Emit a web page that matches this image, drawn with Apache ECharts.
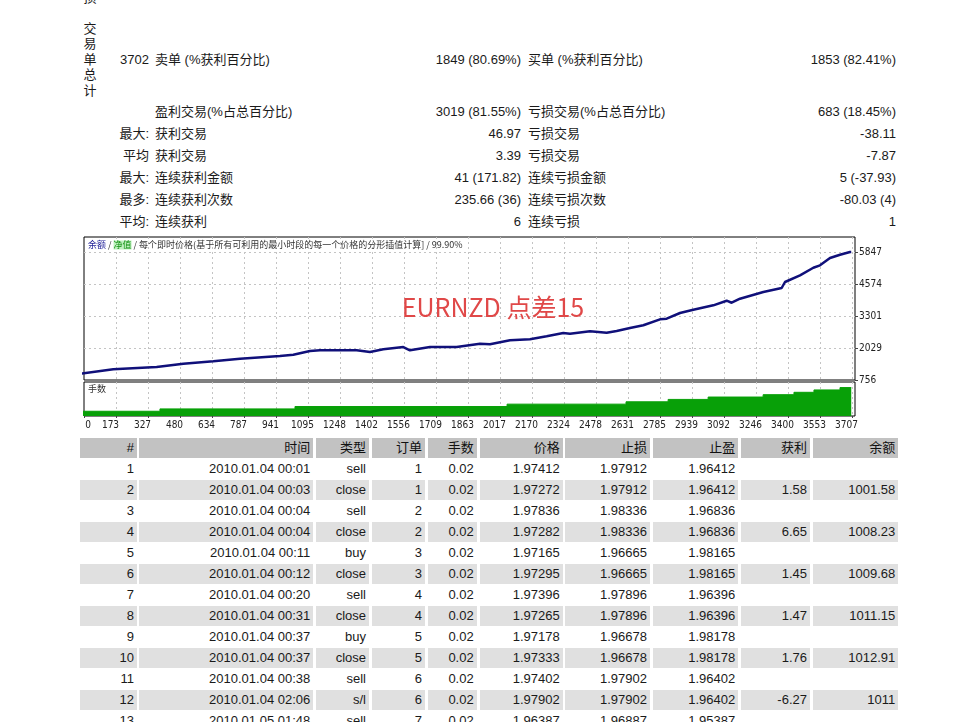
<!DOCTYPE html>
<html><head><meta charset="utf-8">
<script src="https://cdn.jsdelivr.net/npm/echarts@6/dist/echarts.min.js"></script>
<style>
html,body{margin:0;padding:0;background:#fff;width:971px;height:722px;overflow:hidden;}
body{position:relative;font-family:"Liberation Sans","Noto Sans CJK SC",sans-serif;font-size:13px;color:#1a1a1a;}
.t{position:absolute;height:20px;line-height:20px;white-space:nowrap;}
.vt{position:absolute;width:16px;text-align:center;line-height:15.5px;font-size:13px;}
#chart{position:absolute;left:0;top:230px;width:971px;height:205px;}
.cell{position:absolute;height:20px;line-height:20px;text-align:right;box-sizing:border-box;padding-right:3px;white-space:nowrap;overflow:hidden;}
</style></head><body>
<div id="stats"></div>
<div id="chart"></div>
<div id="table"></div>
<script>
// ---------- summary statistics ----------
const statPrefix     = ['3702', '', '最大:', '平均', '最大:', '最多:', '平均:'];
const statLeftLabel  = ['卖单 (%获利百分比)', '盈利交易(%占总百分比)', '获利交易', '获利交易', '连续获利金额', '连续获利次数', '连续获利'];
const statLeftValue  = ['1849 (80.69%)', '3019 (81.55%)', '46.97', '3.39', '41 (171.82)', '235.66 (36)', '6'];
const statRightLabel = ['买单 (%获利百分比)', '亏损交易(%占总百分比)', '亏损交易', '亏损交易', '连续亏损金额', '连续亏损次数', '连续亏损'];
const statRightValue = ['1853 (82.41%)', '683 (18.45%)', '-38.11', '-7.87', '5 (-37.93)', '-80.03 (4)', '1'];
const sideTitleTop = ['损'];
const sideTitle = ['交', '易', '单', '总', '计'];

// ---------- balance chart ----------
const xTickLabels = ['0','173','327','480','634','787','941','1095','1248','1402','1556','1709','1863','2017','2170','2324','2478','2631','2785','2939','3092','3246','3400','3553','3707'];
const yTickLabels = ['756','2029','3301','4574','5847'];
const balanceTrade = [0,160,368,496,640,768,960,1024,1104,1152,1328,1392,1456,1552,1584,1680,1808,1920,1968,2064,2160,2240,2320,2352,2448,2528,2576,2640,2704,2784,2816,2880,2944,3040,3104,3128,3168,3280,3368,3384,3456,3520,3552,3600,3648,3696,3702];
const balanceValue = [1000,1182,1273,1404,1500,1603,1710,1762,1909,1937,1937,1870,1977,2068,1937,2068,2068,2200,2176,2335,2375,2494,2625,2597,2693,2637,2705,2824,2932,3170,3194,3421,3552,3727,3910,3830,3989,4256,4415,4654,4920,5222,5318,5608,5739,5847,5850];
const lotsTrade = [0,384,1032,2050,2621,2823,3015,3279,3427,3523,3648,3702];
const lotsValue = [0.02,0.03,0.04,0.05,0.06,0.07,0.08,0.09,0.10,0.11,0.12,0.12];
const chartHeader = ['余额', '净值', '每个即时价格(基于所有可利用的最小时段的每一个价格的分形插值计算]', '99.90%'];
const lotsTitle = '手数';
const watermark = 'EURNZD 点差15';

// ---------- trade table ----------
const tableHeader = ['#','时间','类型','订单','手数','价格','止损','止盈','获利','余额'];
const rowNo      = ['1','2','3','4','5','6','7','8','9','10','11','12','13'];
const rowTime    = ['2010.01.04 00:01','2010.01.04 00:03','2010.01.04 00:04','2010.01.04 00:04','2010.01.04 00:11','2010.01.04 00:12','2010.01.04 00:20','2010.01.04 00:31','2010.01.04 00:37','2010.01.04 00:37','2010.01.04 00:38','2010.01.04 02:06','2010.01.05 01:48'];
const rowType    = ['sell','close','sell','close','buy','close','sell','close','buy','close','sell','s/l','sell'];
const rowOrder   = ['1','1','2','2','3','3','4','4','5','5','6','6','7'];
const rowLots    = ['0.02','0.02','0.02','0.02','0.02','0.02','0.02','0.02','0.02','0.02','0.02','0.02','0.02'];
const rowPrice   = ['1.97412','1.97272','1.97836','1.97282','1.97165','1.97295','1.97396','1.97265','1.97178','1.97333','1.97402','1.97902','1.96387'];
const rowSL      = ['1.97912','1.97912','1.98336','1.98336','1.96665','1.96665','1.97896','1.97896','1.96678','1.96678','1.97902','1.97902','1.96887'];
const rowTP      = ['1.96412','1.96412','1.96836','1.96836','1.98165','1.98165','1.96396','1.96396','1.98178','1.98178','1.96402','1.96402','1.95387'];
const rowProfit  = ['','1.58','','6.65','','1.45','','1.47','','1.76','','-6.27',''];
const rowBalance = ['','1001.58','','1008.23','','1009.68','','1011.15','','1012.91','','1011',''];

// ================= layout / rendering =================
(function buildStats(){
  const host = document.getElementById('stats');
  const rowY = [60,112,134,156,178,200,222];
  let html = '';
  for (let i = 0; i < rowY.length; i++) {
    const top = rowY[i] - 10;
    html += `<div class="t" style="top:${top}px;right:${971-149}px;text-align:right">${statPrefix[i]}</div>`;
    html += `<div class="t" style="top:${top}px;left:155px">${statLeftLabel[i]}</div>`;
    html += `<div class="t" style="top:${top}px;right:${971-521}px;text-align:right">${statLeftValue[i]}</div>`;
    html += `<div class="t" style="top:${top}px;left:528px">${statRightLabel[i]}</div>`;
    html += `<div class="t" style="top:${top}px;right:${971-896}px;text-align:right">${statRightValue[i]}</div>`;
  }
  html += `<div class="vt" style="left:82px;top:-10.5px">${sideTitleTop.join('<br>')}</div>`;
  html += `<div class="vt" style="left:82px;top:20.5px">${sideTitle.join('<br>')}</div>`;
  host.innerHTML = html;
})();

(function buildTable(){
  const host = document.getElementById('table');
  const cols = [[80,57],[139.3,174],[316,53],[371.7,53.3],[427.7,49],[480,82.7],[565,85],[652.7,85.6],[741,69],[812.7,85.6]];
  const columns = [rowNo,rowTime,rowType,rowOrder,rowLots,rowPrice,rowSL,rowTP,rowProfit,rowBalance];
  let html = '';
  for (let c = 0; c < cols.length; c++) {
    html += `<div class="cell" style="left:${cols[c][0]}px;width:${cols[c][1]}px;top:438px;background:#c2c2c2;color:#111">${tableHeader[c]}</div>`;
  }
  for (let r = 0; r < rowNo.length; r++) {
    const top = 459 + 21 * r;
    const bg = (r % 2 === 1) ? '#e0e0e0' : '#ffffff';
    for (let c = 0; c < cols.length; c++) {
      html += `<div class="cell" style="left:${cols[c][0]}px;width:${cols[c][1]}px;top:${top}px;background:${bg}">${columns[c][r]}</div>`;
    }
  }
  host.innerHTML = html;
})();

const chart = echarts.init(document.getElementById('chart'));
const axisFont = "'Liberation Sans Narrow','DejaVu Sans Condensed','Liberation Sans',sans-serif";
const X_MIN = 19.4, X_MAX = 3720, X_INT = 153.6;
const Y_MIN = 756, Y_MAX = 6444, Y_INT = 1272.75;
const dash = {color:'#c4c4c4', type:[2,3], width:1};

chart.setOption({
  animation: false,
  grid: [
    {left:84, top:7, width:771, height:143, show:true, borderColor:'#000', borderWidth:1, backgroundColor:'#fff'},
    {left:84, top:152, width:771, height:34, show:true, borderColor:'#000', borderWidth:1, backgroundColor:'#fff'}
  ],
  xAxis: [
    {gridIndex:0, type:'value', min:X_MIN, max:X_MAX, interval:X_INT,
     axisLine:{show:false}, axisTick:{show:false}, axisLabel:{show:false},
     splitLine:{show:true, showMinLine:false, showMaxLine:false, lineStyle:dash}},
    {gridIndex:1, type:'value', min:X_MIN, max:X_MAX, interval:X_INT,
     axisLine:{show:false},
     axisTick:{show:true, length:2, lineStyle:{color:'#444'}},
     splitLine:{show:true, showMinLine:false, showMaxLine:false, lineStyle:dash},
     axisLabel:{show:true, interval:0, margin:4, color:'#222', fontSize:10, fontFamily:axisFont,
       showMinLabel:true, showMaxLabel:false,
       formatter:function(v, i){
         const s = xTickLabels[i];
         if (s === undefined) return '';
         return i === 0 ? '{f|' + s + '}' : '{n|' + s + '}';
       },
       rich:{
         f:{padding:[0,0,0,8], fontSize:10, fontFamily:axisFont, color:'#222'},
         n:{padding:[0,11,0,0], fontSize:10, fontFamily:axisFont, color:'#222'}
       }}}
  ],
  yAxis: [
    {gridIndex:0, type:'value', position:'right', min:Y_MIN, max:Y_MAX, interval:Y_INT,
     axisLine:{show:false},
     axisTick:{show:true, length:3, lineStyle:{color:'#444'}},
     splitLine:{show:true, showMinLine:false, showMaxLine:false, lineStyle:dash},
     axisLabel:{show:true, margin:4, color:'#222', fontSize:10, fontFamily:axisFont,
       showMinLabel:true, showMaxLabel:false,
       formatter:function(v, i){ return yTickLabels[i] === undefined ? '' : yTickLabels[i]; }}},
    {gridIndex:1, type:'value', min:0, max:0.1435, show:false, splitLine:{show:false}}
  ],
  series: [
    {type:'line', name:'余额', xAxisIndex:0, yAxisIndex:0, showSymbol:false, clip:true,
     data: balanceTrade.map((t, i) => [t, balanceValue[i]]),
     lineStyle:{color:'#10107a', width:2.5}, z:3},
    {type:'line', name:'手数', xAxisIndex:1, yAxisIndex:1, showSymbol:false, step:'end', clip:true,
     data: lotsTrade.map((t, i) => [t, lotsValue[i]]),
     lineStyle:{color:'#08a008', width:1}, areaStyle:{color:'#08a008', opacity:1}, z:3}
  ],
  graphic: [
    {type:'text', x:88, y:15, z:10, style:{
      text: '{a|' + chartHeader[0] + '} / {b|' + chartHeader[1] + '} / ' + chartHeader[2] + ' / ' + chartHeader[3],
      fontSize:9, fontFamily:"'Noto Sans CJK SC',sans-serif", fill:'#333', verticalAlign:'middle',
      rich:{
        a:{fill:'#1c1c96', fontSize:9, fontFamily:"'Noto Sans CJK SC',sans-serif"},
        b:{fill:'#109010', backgroundColor:'#bff0bf', fontSize:9, fontFamily:"'Noto Sans CJK SC',sans-serif"}
      }}},
    {type:'text', x:88, y:159, z:10, style:{text:lotsTitle, fontSize:9, fontFamily:"'Noto Sans CJK SC',sans-serif", fill:'#333', verticalAlign:'middle'}},
    {type:'text', x:493, y:77, z:20, style:{text:watermark, fontSize:25, fontFamily:"'Noto Sans CJK SC',sans-serif", fill:'#e04848', align:'center', verticalAlign:'middle'}}
  ]
});
</script>
</body></html>
